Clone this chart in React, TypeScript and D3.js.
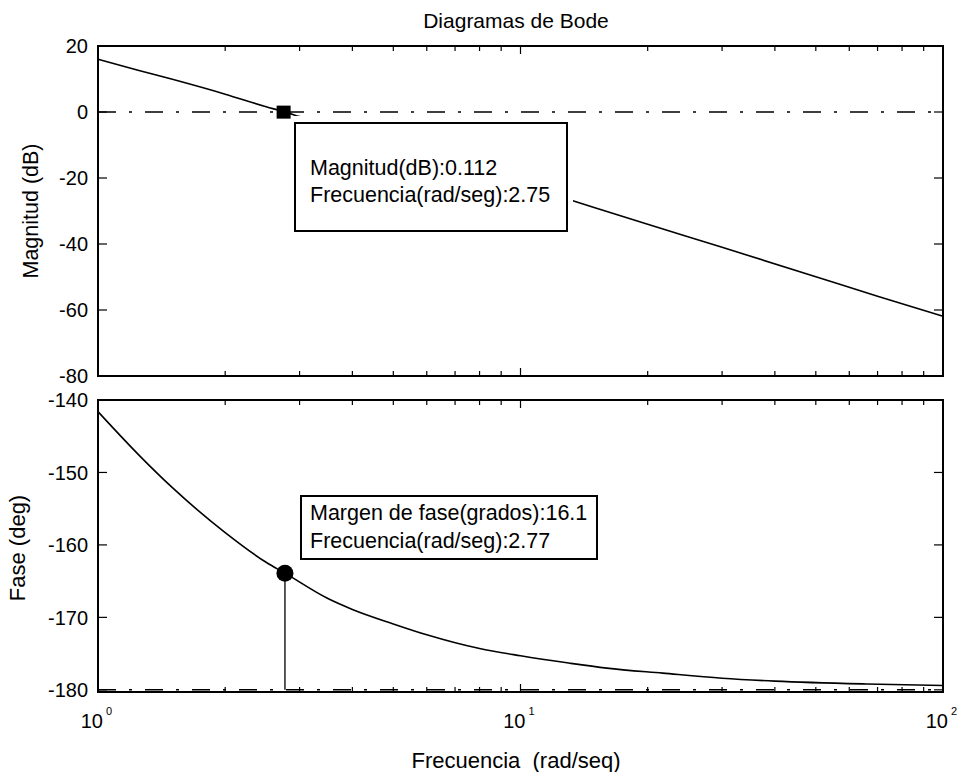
import React from "react";
import * as d3 from "d3";

// ---- data ----
const magFreq = [1, 1.25, 1.5, 2, 2.5, 2.75, 3, 4, 5, 7, 10, 13.3, 15, 20, 30, 50, 70, 100];
const magDb = [16.0, 12.6, 9.9, 5.4, 1.6, 0.11, -1.4, -6.2, -10.0, -15.8, -22.0, -26.9, -29.0, -34.0, -41.0, -49.9, -55.8, -61.9];

const phaseFreq = [1, 1.25, 1.5, 2, 2.5, 2.77, 3.5, 4, 5, 6, 8, 10, 13, 16, 21.7, 30, 40, 66, 100];
const phaseDeg = [-141.6, -147.6, -152.1, -158.3, -162.4, -163.9, -167.4, -168.9, -170.9, -172.4, -174.3, -175.3, -176.3, -177.0, -177.7, -178.4, -178.8, -179.2, -179.4];

const magTicks = [20, 0, -20, -40, -60, -80];
const phaseTicks = [-140, -150, -160, -170, -180];
const decadeTicks = [1, 10, 100];
const decadeExp = ["0", "1", "2"];

const magMarker = { f: 2.75, v: 0.112 };
const phaseMarker = { f: 2.77, v: -163.9 };
const magLines = ["Magnitud(dB):0.112", "Frecuencia(rad/seg):2.75"];
const phaseLines = ["Margen de fase(grados):16.1", "Frecuencia(rad/seg):2.77"];

const FONT = "'Liberation Sans', Arial, Helvetica, sans-serif";

export default function App() {
  const W = 959, H = 772;
  const L = 98, R = 943;
  const magTop = 46, magBot = 376;
  const phTop = 400, phBot = 692;

  const x = d3.scaleLog().domain([1, 100]).range([L, R]);
  const yMag = d3.scaleLinear().domain([-80, 20]).range([magBot, magTop]);
  const yPh = d3.scaleLinear().domain([-180.3, -140]).range([phBot, phTop]);

  const magLine = d3
    .line<number>()
    .x((_, i) => x(magFreq[i]))
    .y((d) => yMag(d))
    .curve(d3.curveMonotoneX);
  const phLine = d3
    .line<number>()
    .x((_, i) => x(phaseFreq[i]))
    .y((d) => yPh(d))
    .curve(d3.curveMonotoneX);

  const xTicks = x.ticks();
  const isMajor = (t: number) => Math.abs(Math.log10(t) - Math.round(Math.log10(t))) < 1e-9;

  const axisFrame = (top: number, bot: number, yScale: any, yt: number[], key: string) => (
    <g key={key}>
      {xTicks.map((t, i) => {
        const len = isMajor(t) ? 8 : 5;
        return (
          <g key={i}>
            <line x1={x(t)} x2={x(t)} y1={bot} y2={bot - len} stroke="#000" strokeWidth={1.2} />
            <line x1={x(t)} x2={x(t)} y1={top} y2={top + len} stroke="#000" strokeWidth={1.2} />
          </g>
        );
      })}
      {yt.map((t, i) => (
        <g key={"y" + i}>
          <line x1={L} x2={L + 9} y1={yScale(t)} y2={yScale(t)} stroke="#000" strokeWidth={1.2} />
          <line x1={R} x2={R - 9} y1={yScale(t)} y2={yScale(t)} stroke="#000" strokeWidth={1.2} />
          <text x={88} y={yScale(t)} dy="0.36em" textAnchor="end" fontSize={20} fontFamily={FONT}>
            {t}
          </text>
        </g>
      ))}
      <rect x={L} y={top} width={R - L} height={bot - top} fill="none" stroke="#000" strokeWidth={2} />
    </g>
  );

  const dashDot = "18,13,3,13";

  return (
    <svg
      width={W}
      height={H}
      viewBox={`0 0 ${W} ${H}`}
      style={{ position: "absolute", left: 0, top: 0, background: "#fff" }}
    >
      <rect x={0} y={0} width={W} height={H} fill="#fff" />
      {/* title */}
      <text x={516} y={28} textAnchor="middle" fontSize={21} fontFamily={FONT}>
        Diagramas de Bode
      </text>

      {/* ---------- magnitude panel ---------- */}
      <line x1={L} x2={R} y1={yMag(0)} y2={yMag(0)} stroke="#000" strokeWidth={1.5} strokeDasharray={dashDot} />
      <path d={magLine(magDb) || ""} fill="none" stroke="#000" strokeWidth={1.6} />
      {axisFrame(magTop, magBot, yMag, magTicks, "mag")}
      {/* data tip box */}
      <rect x={289} y={116} width={284} height={122} fill="#fff" />
      <rect x={295} y={123} width={272} height={108} fill="#fff" stroke="#000" strokeWidth={2} />
      {magLines.map((s, i) => (
        <text key={i} x={310} y={175 + i * 27} fontSize={21.5} fontFamily={FONT}>
          {s}
        </text>
      ))}
      <rect
        x={x(magMarker.f) - 7}
        y={yMag(magMarker.v) - 6}
        width={14}
        height={13}
        fill="#000"
      />
      <text
        transform={`translate(38, ${(magTop + magBot) / 2}) rotate(-90)`}
        textAnchor="middle"
        fontSize={21.5}
        fontFamily={FONT}
      >
        Magnitud (dB)
      </text>

      {/* ---------- phase panel ---------- */}
      <line x1={L} x2={R} y1={yPh(-180)} y2={yPh(-180)} stroke="#000" strokeWidth={1.5} strokeDasharray={dashDot} />
      <path d={phLine(phaseDeg) || ""} fill="none" stroke="#000" strokeWidth={1.6} />
      <line
        x1={x(phaseMarker.f)}
        x2={x(phaseMarker.f)}
        y1={yPh(phaseMarker.v)}
        y2={yPh(-180)}
        stroke="#000"
        strokeWidth={1.3}
      />
      {axisFrame(phTop, phBot, yPh, phaseTicks, "ph")}
      <rect x={301} y={496} width={296} height={63} fill="#fff" stroke="#000" strokeWidth={2} />
      {phaseLines.map((s, i) => (
        <text key={i} x={310} y={520 + i * 28} fontSize={21.5} fontFamily={FONT}>
          {s}
        </text>
      ))}
      <circle cx={x(phaseMarker.f)} cy={yPh(phaseMarker.v)} r={8.5} fill="#000" />
      <text
        transform={`translate(24.5, ${(phTop + phBot) / 2 + 2}) rotate(-90)`}
        textAnchor="middle"
        fontSize={22}
        fontFamily={FONT}
      >
        Fase (deg)
      </text>

      {/* x tick labels */}
      {decadeTicks.map((t, i) => (
        <g key={"xt" + i}>
          <text x={x(t) + 5} y={728} textAnchor="end" fontSize={20} fontFamily={FONT}>
            10
          </text>
          <text x={x(t) + 8} y={715} fontSize={11} fontFamily={FONT}>
            {decadeExp[i]}
          </text>
        </g>
      ))}
      <text x={516} y={768} textAnchor="middle" fontSize={22} fontFamily={FONT} style={{ whiteSpace: "pre" }}>
        {"Frecuencia  (rad/seq)"}
      </text>
    </svg>
  );
}
